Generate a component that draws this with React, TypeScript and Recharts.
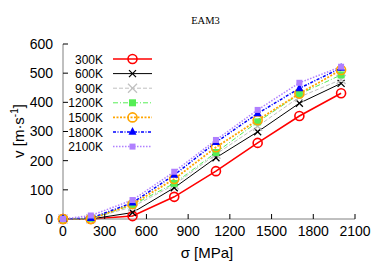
import React from "react";
import { Legend, Line, LineChart, XAxis, YAxis } from "recharts";

const sigma = [0, 200, 500, 800, 1100, 1400, 1700, 2000];

const v300 = [0, 0, 10, 76, 164, 261, 353, 431];
const v600 = [0, 0, 22, 107, 210, 299, 397, 465];
const v900 = [0, 1, 42, 117, 222, 318, 418, 478];
const v1200 = [0, 2, 48, 122, 228, 333, 428, 494];
const v1500 = [0, 0, 51, 137, 246, 339, 430, 511];
const v1800 = [0, 3, 56, 151, 263, 362, 448, 518];
const v2100 = [0, 12, 65, 162, 271, 374, 467, 522];

const xTicks = [0, 300, 600, 900, 1200, 1500, 1800, 2100];
const yTicks = [0, 100, 200, 300, 400, 500, 600];

type Marker = "circle" | "cross" | "square" | "triangle";

const series = [
  { key: "t300", name: "300K", values: v300, color: "#ff0000", dash: undefined, width: 1.6, marker: "circle" as Marker, size: 4.5 },
  { key: "t600", name: "600K", values: v600, color: "#000000", dash: undefined, width: 1, marker: "cross" as Marker, size: 3.5 },
  { key: "t900", name: "900K", values: v900, color: "#c0c0c0", dash: "4 2", width: 1, marker: "cross" as Marker, size: 4.5 },
  { key: "t1200", name: "1200K", values: v1200, color: "#55ee55", dash: "5 2 1 2", width: 1, marker: "square" as Marker, size: 3.5 },
  { key: "t1500", name: "1500K", values: v1500, color: "#ffa500", dash: "2 1.5", width: 1.8, marker: "circle" as Marker, size: 4.5 },
  { key: "t1800", name: "1800K", values: v1800, color: "#0000ff", dash: "3 1.5 1 1.5", width: 1.5, marker: "triangle" as Marker, size: 4 },
  { key: "t2100", name: "2100K", values: v2100, color: "#b080ff", dash: "1.5 1.5", width: 1.5, marker: "square" as Marker, size: 3 },
];

const data = sigma.map((s, i) => {
  const row: Record<string, number> = { sigma: s };
  series.forEach((sr) => {
    row[sr.key] = sr.values[i];
  });
  return row;
});

function drawMarker(kind: Marker, cx: number, cy: number, color: string, size: number, key?: string) {
  if (kind === "circle") {
    return <circle key={key} cx={cx} cy={cy} r={size} fill="none" stroke={color} strokeWidth={1.6} />;
  }
  if (kind === "cross") {
    return (
      <g key={key} stroke={color} strokeWidth={1.3}>
        <line x1={cx - size} y1={cy - size} x2={cx + size} y2={cy + size} />
        <line x1={cx - size} y1={cy + size} x2={cx + size} y2={cy - size} />
      </g>
    );
  }
  if (kind === "square") {
    return <rect key={key} x={cx - size} y={cy - size} width={size * 2} height={size * 2} fill={color} />;
  }
  return (
    <polygon
      key={key}
      points={`${cx},${cy - size - 1} ${cx - size},${cy + size * 0.7} ${cx + size},${cy + size * 0.7}`}
      fill={color}
    />
  );
}

function LegendBox() {
  return (
    <svg width={100} height={110}>
      {series.map((s, i) => {
        const y = 8 + i * 14.6;
        return (
          <g key={s.key}>
            <text x={38} y={y + 4.5} textAnchor="end" fontSize={12} fontFamily="Liberation Sans, Arial, sans-serif" fill="#000">
              {s.name}
            </text>
            <line x1={48} x2={87} y1={y} y2={y} stroke={s.color} strokeWidth={s.width} strokeDasharray={s.dash} />
            {drawMarker(s.marker, 67.5, y, s.color, s.size)}
          </g>
        );
      })}
    </svg>
  );
}

const tickFont = { fontSize: 14, fill: "#000", fontFamily: "Liberation Sans, Arial, sans-serif" };

export default function App() {
  return (
    <div style={{ position: "absolute", left: 0, top: 0, width: 382, height: 267, background: "#fff" }}>
      <LineChart width={382} height={267} data={data} margin={{ top: 44, right: 27, bottom: 0, left: 0 }}>
        <XAxis
          dataKey="sigma"
          type="number"
          domain={[0, 2100]}
          ticks={xTicks}
          height={48}
          tick={tickFont}
          tickSize={-5}
          tickMargin={12}
          stroke="#808080"
          tickLine={{ stroke: "#000" }}
        />
        <XAxis
          xAxisId="top"
          dataKey="sigma"
          type="number"
          orientation="top"
          domain={[0, 2100]}
          ticks={xTicks}
          height={0}
          tick={false}
          tickSize={-5}
          stroke="#000"
        />
        <YAxis
          type="number"
          domain={[0, 600]}
          ticks={yTicks}
          width={63}
          tick={tickFont}
          tickSize={-5}
          tickMargin={15}
          stroke="#808080"
          tickLine={{ stroke: "#000" }}
        />
        <YAxis
          yAxisId="right"
          type="number"
          orientation="right"
          domain={[0, 600]}
          ticks={yTicks}
          width={0}
          tick={false}
          tickSize={-5}
          stroke="#808080"
          tickLine={{ stroke: "#000" }}
        />
        <Legend
          layout="vertical"
          align="center"
          verticalAlign="middle"
          content={() => <LegendBox />}
          wrapperStyle={{ position: "absolute", left: 65, top: 51, width: 100, height: 110 }}
        />
        {series.map((s) => (
          <Line
            key={s.key}
            dataKey={s.key}
            name={s.name}
            stroke={s.color}
            strokeWidth={s.width}
            strokeDasharray={s.dash}
            isAnimationActive={false}
            dot={(p: any) => drawMarker(s.marker, p.cx, p.cy, s.color, s.size, `${s.key}-${p.index}`)}
            activeDot={false}
          />
        ))}
      </LineChart>
      <svg width={382} height={267} style={{ position: "absolute", left: 0, top: 0, pointerEvents: "none" }}>
        <text x={205.5} y={24} textAnchor="middle" fontSize={10.5} fontFamily="Liberation Serif, Times New Roman, serif" fill="#000">
          EAM3
        </text>
        <text x={207} y={258} textAnchor="middle" fontSize={15} fontFamily="Liberation Sans, Arial, sans-serif" fill="#000">
          σ [MPa]
        </text>
        <text
          transform="translate(24,131) rotate(-90)"
          textAnchor="middle"
          fontSize={15}
          fontFamily="Liberation Sans, Arial, sans-serif"
          fill="#000"
        >
          v [m·s
          <tspan fontSize={10} dy={-6}>-1</tspan>
          <tspan dy={6}>]</tspan>
        </text>
      </svg>
    </div>
  );
}
